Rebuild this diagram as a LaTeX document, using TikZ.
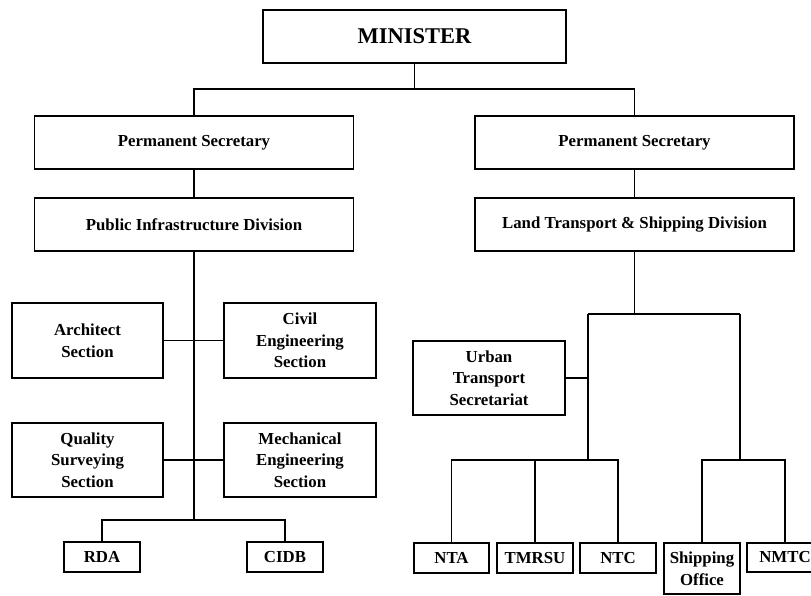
\documentclass[tikz,border=0pt]{standalone}
\usepackage{fontspec}
\setmainfont{Liberation Serif}
\begin{document}
\begin{tikzpicture}[x=1pt,y=-1pt,
  box/.style={draw,line width=1.3pt,fill=white,align=center,inner sep=0pt,
    font=\bfseries\fontsize{16.8}{21.7}\selectfont},
  conn/.style={line width=1.2pt},
  stem/.style={line width=1.8pt}]
\useasboundingbox (0,0) rectangle (811,595);
\clip (0,0) rectangle (811,595);
% top
\node[box,minimum width=303pt,minimum height=53pt,font=\bfseries\fontsize{22.5}{26}\selectfont] (min) at (414.5,36.5) {MINISTER};
\node[box,minimum width=319pt,minimum height=53pt] (psl) at (194,142.5) {Permanent Secretary};
\node[box,minimum width=319pt,minimum height=53pt] (psr) at (634.5,142.5) {Permanent Secretary};
\node[box,minimum width=319pt,minimum height=53pt] (pid) at (194,224.5) {Public Infrastructure Division};
\node[box,minimum width=319pt,minimum height=53pt] (lt) at (634.5,224.5) {Land Transport \& Shipping Division};
% left sections
\node[box,minimum width=151pt,minimum height=75pt] (arch) at (87.5,340.5) {Architect\\Section};
\node[box,minimum width=152pt,minimum height=75pt] (civ) at (300,340.5) {Civil\\Engineering\\Section};
\node[box,minimum width=151pt,minimum height=74pt] (qs) at (87.5,460) {Quality\\Surveying\\Section};
\node[box,minimum width=152pt,minimum height=74pt] (mech) at (300,460) {Mechanical\\Engineering\\Section};
\node[box,minimum width=76pt,minimum height=30pt] (rda) at (102,557) {RDA};
\node[box,minimum width=76pt,minimum height=30pt] (cidb) at (285,557) {CIDB};
% right
\node[box,minimum width=152pt,minimum height=74pt] (ub) at (489,378) {Urban\\Transport\\Secretariat};
\node[box,minimum width=75pt,minimum height=30pt] (nta) at (451.5,558) {NTA};
\node[box,minimum width=76pt,minimum height=30pt] (tmrsu) at (535,558) {TMRSU};
\node[box,minimum width=76pt,minimum height=30pt] (ntc) at (618,558) {NTC};
\node[box,minimum width=76pt,minimum height=51pt] (ship) at (702,568.5) {Shipping\\Office};
\node[box,minimum width=76pt,minimum height=29pt] (nmtc) at (785,557.5) {NMTC};
% junctions
\coordinate (j1) at (414.5,89);
\coordinate (jb) at (194,520);
\coordinate (jt) at (634.5,314);
\coordinate (jl) at (588,314);
\coordinate (jr) at (740,314);
\coordinate (jln) at (588,460);
\coordinate (jrn) at (740,460);
% connectors
\draw[conn] (min.south) -- (j1);
\draw[conn] (psl.north) -- (psl.north |- j1) -- (psr.north |- j1) -- (psr.north);
\draw[conn] (psl.south) -- (pid.north);
\draw[conn] (psr.south) -- (lt.north);
\draw[stem] (pid.south) -- (jb);
\draw[conn] (arch) -- (civ);
\draw[conn] (qs) -- (mech);
\draw[conn] (rda.north) -- (rda.north |- jb) -- (cidb.north |- jb) -- (cidb.north);
\draw[conn] (lt.south) -- (jt);
\draw[conn] (jl) -- (jr);
\draw[stem] (jl) -- (jln);
\draw[conn] (jr) -- (jrn);
\draw[conn] (ub.east) -- (ub.east -| jl);
\draw[conn] (nta.north) -- (nta.north |- jln) -- (ntc.north |- jln) -- (ntc.north);
\draw[conn] (tmrsu.north) -- (tmrsu.north |- jln);
\draw[conn] (ship.north) -- (ship.north |- jrn) -- (nmtc.north |- jrn) -- (nmtc.north);
\end{tikzpicture}
\end{document}
